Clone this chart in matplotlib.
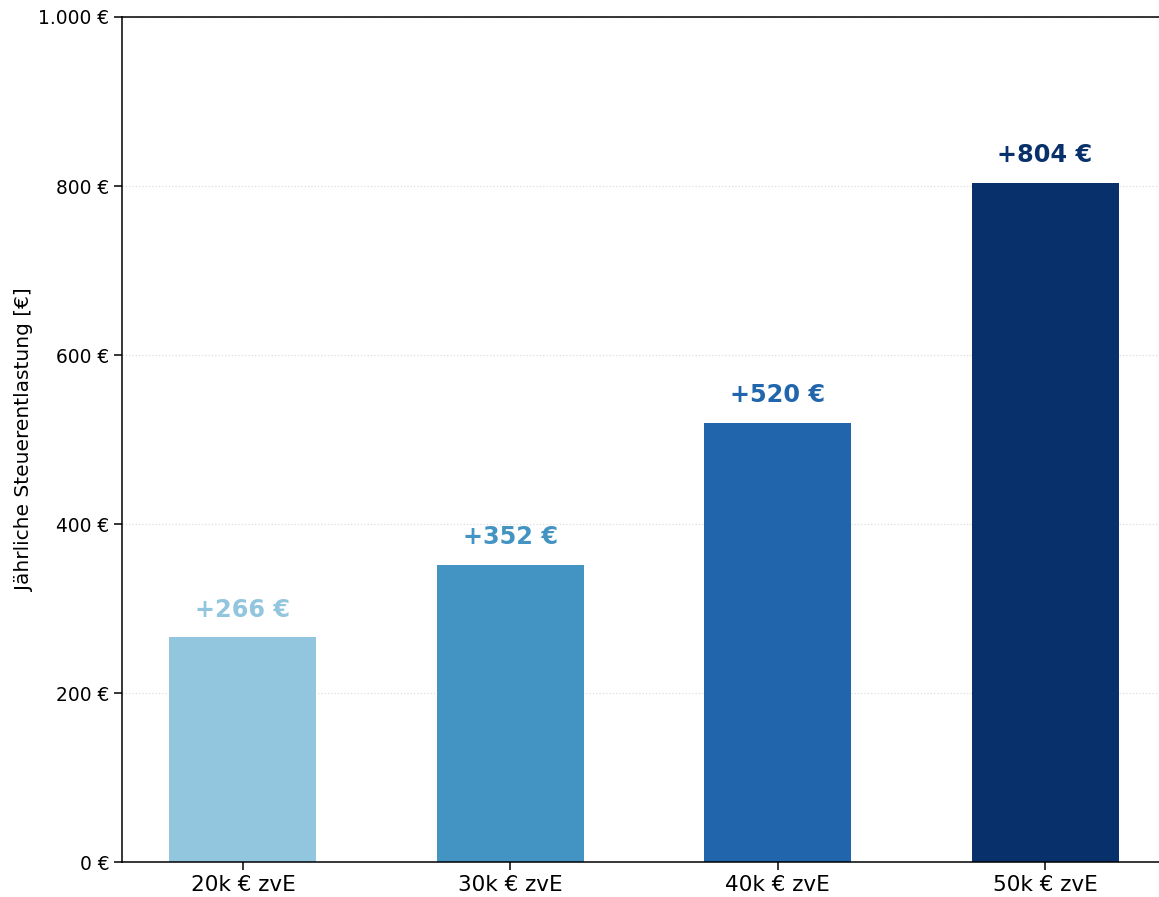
import matplotlib
matplotlib.use("Agg")
import matplotlib.pyplot as plt

categories = ["20k € zvE", "30k € zvE", "40k € zvE", "50k € zvE"]
entlastung = [266, 352, 520, 804]
colors = ["#92c5de", "#4393c3", "#2166ac", "#08306b"]
yticks = [0, 200, 400, 600, 800, 1000]

fig = plt.figure(figsize=(11.59, 8.97), dpi=100)
ax = fig.add_axes([122 / 1159, 35 / 897, 1044 / 1159, 845 / 897])

x = range(len(categories))
ax.bar(x, entlastung, width=0.55, color=colors, zorder=2)

for xi, val, c in zip(x, entlastung, colors):
    ax.text(xi, val + 18, f"+{val} €", ha="center", va="bottom",
            fontsize=17.3, fontweight="bold", color=c)

ax.set_xticks(list(x))
ax.set_xticklabels(categories, fontsize=15.5)
ax.set_ylim(0, 1000)
ax.set_yticks(yticks)
ax.set_yticklabels([f"{v:,} €".replace(",", ".") for v in yticks], fontsize=13.4)
ax.set_ylabel("Jährliche Steuerentlastung [€]", fontsize=14.5, labelpad=3)
ax.grid(axis="y", linestyle=":", color="#dddddd", linewidth=0.9, zorder=0)
ax.set_axisbelow(True)
for s in ax.spines.values():
    s.set_linewidth(1.1)
ax.tick_params(width=1.1, length=5.5)

fig.savefig("out.png", dpi=100)
